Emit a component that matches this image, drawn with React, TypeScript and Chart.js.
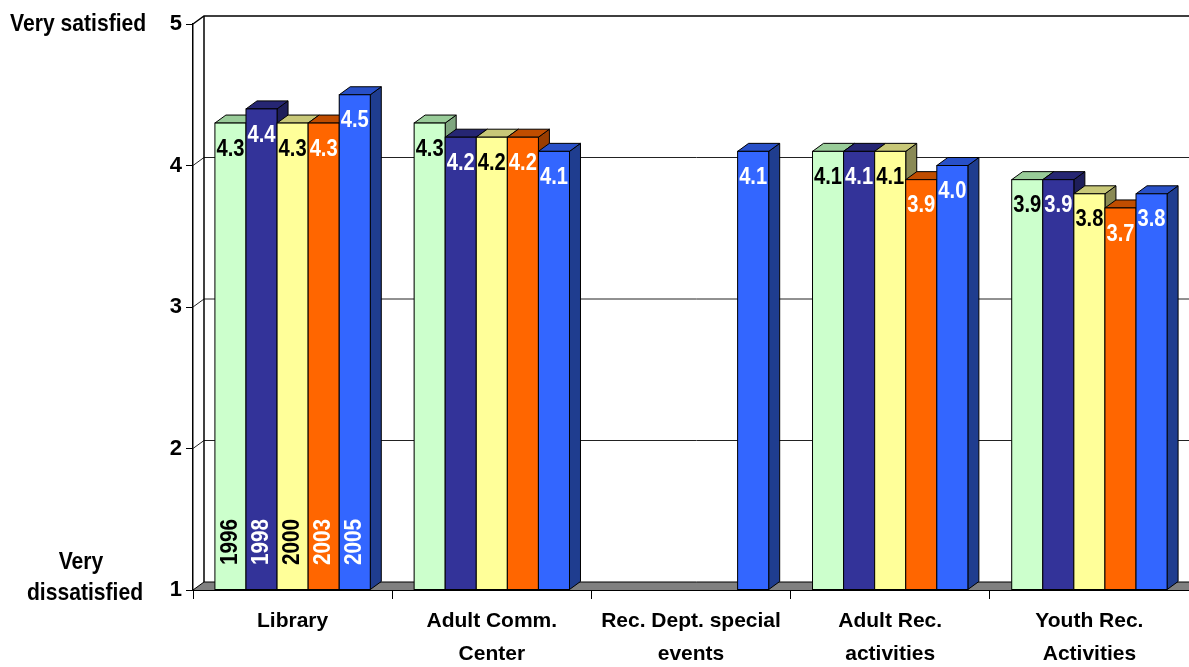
import React, { useEffect, useRef } from "react";
import { Chart, registerables } from "chart.js";

Chart.register(...registerables);

// ---------- data ----------
const categories: string[][] = [
  ["Library"],
  ["Adult Comm.", "Center"],
  ["Rec. Dept. special", "events"],
  ["Adult Rec.", "activities"],
  ["Youth Rec.", "Activities"],
];
const years = ["1996", "1998", "2000", "2003", "2005"];
const values1996 = [4.3, 4.3, null, 4.1, 3.9];
const values1998 = [4.4, 4.2, null, 4.1, 3.9];
const values2000 = [4.3, 4.2, null, 4.1, 3.8];
const values2003 = [4.3, 4.2, null, 3.9, 3.7];
const values2005 = [4.5, 4.1, 4.1, 4.0, 3.8];
const yTickValues = [1, 2, 3, 4, 5];
const topAxisLabel = "Very satisfied";
const bottomAxisLabel = ["Very", "dissatisfied"];

// ---------- styles ----------
const seriesValues = [values1996, values1998, values2000, values2003, values2005];
const frontColors = ["#CCFFCC", "#333399", "#FFFF99", "#FF6600", "#3366FF"];
const topColors = ["#99CC99", "#262673", "#C8C878", "#C04D00", "#2850C8"];
const sideColors = ["#7FA67F", "#1E1E5A", "#8A8A55", "#993D00", "#1F3D8F"];
const textColors = ["#000000", "#FFFFFF", "#000000", "#FFFFFF", "#FFFFFF"];
const FONT = "'Liberation Sans', Arial, sans-serif";
const DX = 11;
const DY = 8;

function scaledText(
  ctx: CanvasRenderingContext2D,
  text: string,
  x: number,
  y: number,
  size: number,
  sx: number,
  color: string,
  align: CanvasTextAlign,
  rotate = 0
) {
  ctx.save();
  ctx.translate(x, y);
  if (rotate) ctx.rotate(rotate);
  ctx.scale(sx, 1);
  ctx.font = `bold ${size}px ${FONT}`;
  ctx.fillStyle = color;
  ctx.textAlign = align;
  ctx.textBaseline = "middle";
  ctx.fillText(text, 0, 0);
  ctx.restore();
}

const depthPlugin = {
  id: "depth3d",
  beforeDatasetsDraw(chart: any) {
    const { ctx, chartArea, scales } = chart;
    const { left, right, top, bottom } = chartArea;
    const y = scales.y;
    ctx.save();
    // floor
    ctx.fillStyle = "#808080";
    ctx.beginPath();
    ctx.moveTo(left, bottom);
    ctx.lineTo(left + DX, bottom - DY);
    ctx.lineTo(right + DX, bottom - DY);
    ctx.lineTo(right + DX, bottom);
    ctx.closePath();
    ctx.fill();
    ctx.strokeStyle = "#000";
    ctx.lineWidth = 1;
    ctx.beginPath();
    ctx.moveTo(left, bottom);
    ctx.lineTo(left + DX, bottom - DY);
    ctx.lineTo(right, bottom - DY);
    ctx.stroke();
    // back wall gridlines
    yTickValues.forEach((t) => {
      if (t === yTickValues[0]) return;
      const py = y.getPixelForValue(t);
      const isTop = t === yTickValues[yTickValues.length - 1];
      ctx.beginPath();
      ctx.lineWidth = isTop ? 1.5 : 1;
      ctx.strokeStyle = isTop ? "#000" : "#222";
      ctx.moveTo(left, py);
      ctx.lineTo(left + DX, py - DY);
      ctx.lineTo(right, py - DY);
      ctx.stroke();
    });
    ctx.beginPath();
    ctx.lineWidth = 1.5;
    ctx.strokeStyle = "#000";
    ctx.moveTo(left + DX, top - DY);
    ctx.lineTo(left + DX, bottom - DY);
    ctx.stroke();
    ctx.restore();
  },
  afterDatasetsDraw(chart: any) {
    const { ctx, chartArea } = chart;
    const bars: any[] = [];
    chart.data.datasets.forEach((ds: any, di: number) => {
      const meta = chart.getDatasetMeta(di);
      meta.data.forEach((el: any, i: number) => {
        const v = ds.data[i];
        if (v == null) return;
        const p = el.getProps(["x", "y", "base", "width"], true);
        const base = Math.min(p.base, chartArea.bottom);
        bars.push({ di, i, x0: p.x - p.width / 2, x1: p.x + p.width / 2, cx: p.x, y: p.y, base, v });
      });
    });
    bars.sort((a, b) => a.x0 - b.x0);
    ctx.save();
    ctx.lineWidth = 1;
    ctx.strokeStyle = "#000";
    ctx.lineJoin = "miter";
    bars.forEach((b) => {
      // side face
      ctx.fillStyle = sideColors[b.di];
      ctx.beginPath();
      ctx.moveTo(b.x1, b.y);
      ctx.lineTo(b.x1 + DX, b.y - DY);
      ctx.lineTo(b.x1 + DX, b.base - DY);
      ctx.lineTo(b.x1, b.base);
      ctx.closePath();
      ctx.fill();
      ctx.stroke();
      // top face
      ctx.fillStyle = topColors[b.di];
      ctx.beginPath();
      ctx.moveTo(b.x0, b.y);
      ctx.lineTo(b.x0 + DX, b.y - DY);
      ctx.lineTo(b.x1 + DX, b.y - DY);
      ctx.lineTo(b.x1, b.y);
      ctx.closePath();
      ctx.fill();
      ctx.stroke();
      // front face
      ctx.fillStyle = frontColors[b.di];
      ctx.fillRect(b.x0, b.y, b.x1 - b.x0, b.base - b.y);
      ctx.strokeRect(b.x0, b.y, b.x1 - b.x0, b.base - b.y);
    });
    ctx.restore();
    // value labels + year labels
    bars.forEach((b) => {
      scaledText(ctx, b.v.toFixed(1), b.cx, b.y + 26, 24, 0.84, textColors[b.di], "center");
      if (b.i === 0) {
        scaledText(ctx, years[b.di], b.cx, 542, 24, 0.86, textColors[b.di], "center", -Math.PI / 2);
      }
    });
  },
  afterDraw(chart: any) {
    const { ctx, scales } = chart;
    const y = scales.y;
    const yTop = y.getPixelForValue(yTickValues[yTickValues.length - 1]);
    const yBot = y.getPixelForValue(yTickValues[0]);
    scaledText(ctx, topAxisLabel, 10, yTop, 24, 0.88, "#000", "left");
    scaledText(ctx, bottomAxisLabel[0], 81, yBot - 28, 24, 0.88, "#000", "center");
    scaledText(ctx, bottomAxisLabel[1], 85, yBot + 3, 24, 0.88, "#000", "center");
  },
};

export default function App() {
  const ref = useRef<HTMLCanvasElement | null>(null);
  useEffect(() => {
    if (!ref.current) return;
    const chart = new Chart(ref.current, {
      type: "bar",
      data: {
        labels: categories,
        datasets: years.map((yr, di) => ({
          label: yr,
          data: seriesValues[di] as any,
          base: yTickValues[0],
          backgroundColor: frontColors[di],
          borderColor: "#000",
          borderWidth: 1,
          categoryPercentage: 0.78,
          barPercentage: 1,
        })),
      },
      options: {
        animation: false,
        responsive: true,
        maintainAspectRatio: false,
        layout: { padding: { top: 24, left: 0, right: 0, bottom: 0 } },
        plugins: {
          legend: { display: false },
          tooltip: { enabled: false },
        },
        scales: {
          x: {
            afterFit: (s: any) => {
              s.height = 77;
            },
            ticks: {
              color: "#000",
              font: { family: FONT, size: 21, weight: "bold", lineHeight: 1.55 },
              padding: 6,
              maxRotation: 0,
              autoSkip: false,
            },
            grid: { drawOnChartArea: false, tickLength: 9, color: "#000", offset: true },
            border: { display: true, color: "#000", width: 2 },
          },
          y: {
            min: 1,
            max: 5,
            afterFit: (s: any) => {
              s.width = 193;
            },
            afterBuildTicks: (s: any) => {
              s.ticks = yTickValues.map((v) => ({ value: v }));
            },
            ticks: {
              color: "#000",
              font: { family: FONT, size: 22, weight: "bold" },
              padding: 4,
            },
            grid: { drawOnChartArea: false, tickLength: 7, color: "#000" },
            border: { display: true, color: "#000", width: 1.5 },
          },
        },
      },
      plugins: [depthPlugin],
    });
    return () => chart.destroy();
  }, []);
  return (
    <div style={{ position: "fixed", left: 0, top: 0, width: 1189, height: 667, background: "#fff" }}>
      <canvas ref={ref} />
    </div>
  );
}
